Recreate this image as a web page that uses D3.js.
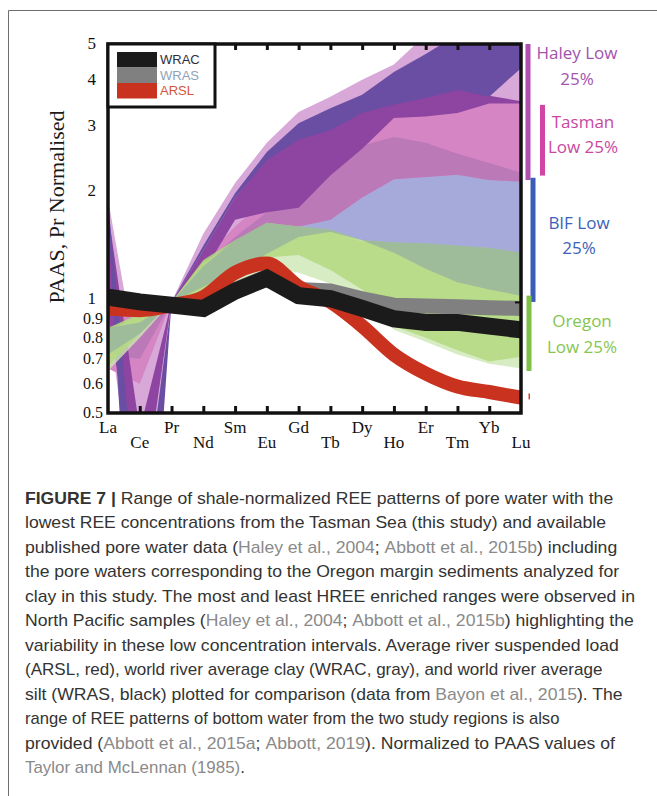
<!DOCTYPE html>
<html><head><meta charset="utf-8">
<script src="https://cdn.jsdelivr.net/npm/d3@7"></script>
<style>
html,body{margin:0;padding:0;background:#fff;}
svg{display:block;}
text{white-space:pre;}
</style></head>
<body>
<svg id="chart" width="657" height="796"></svg>
<script>
// ---------------- DATA ----------------
const elements = ["La","Ce","Pr","Nd","Sm","Eu","Gd","Tb","Dy","Ho","Er","Tm","Yb","Lu"];
const yTickValues = [0.5,0.6,0.7,0.8,0.9,1,2,3,4,5];
const yTickLabels = ["0.5","0.6","0.7","0.8","0.9","1","2","3","4","5"];

// pore-water ranges (PAAS, Pr normalised), per element
const haleyOuterHi = [1.9, 0.62, 1.0, 1.53, 2.1, 2.7, 3.27, 3.6, 4.0, 4.4, 5.3, 5.6, 5.8, 6.0];
const haleyOuterLo = [0.93, 0.2, 1.0, 1.2, 1.5, 1.7, 1.9, 2.1, 2.4, 2.6, 2.7, 2.8, 2.8, 2.3];
const haleyMidHi   = [1.75, 0.45, 1.0, 1.38, 1.92, 2.45, 2.78, 2.95, 3.28, 3.45, 3.6, 3.78, 3.62, 3.5];
const haleyMidLo   = [0.95, 0.25, 1.0, 1.2, 1.67, 1.75, 1.8, 2.2, 2.6, 3.15, 3.18, 3.25, 3.45, 3.45];
const haleyDarkHi  = [1.88, 0.22, 1.0, 1.42, 1.97, 2.55, 3.05, 3.35, 3.64, 4.2, 4.7, 5.3, 5.6, 6.0];
const haleyDarkLo  = [1.7, 0.06, 1.0, 1.38, 1.92, 2.42, 2.75, 2.92, 3.25, 3.42, 3.57, 3.75, 3.6, 4.3];
const tasmanHi     = [0.95, 0.9, 1.0, 1.3, 1.6, 1.9, 2.2, 2.6, 3.0, 3.3, 3.4, 3.5, 3.55, 3.5];
const tasmanLo     = [0.66, 0.6, 1.0, 1.05, 1.2, 1.35, 1.6, 1.67, 1.92, 2.15, 2.18, 2.21, 2.14, 2.12];
const bifHi        = [0.9, 0.88, 1.0, 1.25, 1.5, 1.75, 2.0, 2.3, 2.65, 2.8, 2.7, 2.52, 2.38, 2.24];
const bifLo        = [0.72, 0.7, 1.0, 1.1, 1.2, 1.35, 1.5, 1.55, 1.47, 1.36, 1.23, 1.13, 1.08, 1.04];
const oregonHi     = [0.85, 0.93, 1.0, 1.3, 1.47, 1.64, 1.6, 1.57, 1.47, 1.45, 1.44, 1.42, 1.40, 1.36];
const oregonLo     = [0.67, 0.82, 1.0, 1.02, 1.15, 1.32, 1.34, 1.22, 1.08, 0.86, 0.8, 0.74, 0.69, 0.71];
const bottomWaterHi= [0.84, 0.92, 1.0, 1.28, 1.45, 1.62, 1.58, 1.55, 1.45, 1.43, 1.42, 1.4, 1.38, 1.34];
const bottomWaterLo= [0.65, 0.8, 1.0, 1.0, 1.1, 1.25, 1.2, 1.12, 1.02, 0.84, 0.78, 0.72, 0.68, 0.66];

// river reference patterns
const seriesNames = ["WRAC","WRAS","ARSL"];
const wracValues = [1.03, 1.0, 0.98, 0.96, 1.07, 1.16, 1.04, 1.02, 0.96, 0.9, 0.88, 0.88, 0.86, 0.84];
const wrasValues = [1.03, 1.0, 0.98, 0.96, 1.08, 1.17, 1.08, 1.07, 1.02, 0.98, 0.975, 0.97, 0.965, 0.96];
const arslValues = [0.96, 0.95, 0.98, 1.03, 1.2, 1.27, 1.1, 1.0, 0.86, 0.72, 0.64, 0.59, 0.57, 0.55];

// right-hand range markers (at Lu)
const groupNames = [["Haley Low","25%"],["Tasman","Low 25%"],["BIF Low","25%"],["Oregon","Low 25%"]];
const groupLo = [2.14, 2.2, 1.0, 0.65];
const groupHi = [5.0, 3.42, 2.17, 1.04];

// ---------------- LAYOUT / STYLE ----------------
const M = {left:108, right:521, top:44, bottom:413};
const svg = d3.select("#chart");
const x = d3.scalePoint().domain(elements).range([M.left, M.right]);
const y = d3.scaleLog().domain([0.5,5]).range([M.bottom, M.top]);
const serif = "'Liberation Serif','Times New Roman',serif";
const sans = "'Liberation Sans',Arial,sans-serif";

// outer figure frame
svg.append("path").attr("d","M8.5,796 V10.5 H657").attr("fill","none")
  .attr("stroke","#6e6e6e").attr("stroke-width",1);

svg.append("clipPath").attr("id","plotclip").append("rect")
  .attr("x",M.left).attr("y",M.top).attr("width",M.right-M.left).attr("height",M.bottom-M.top);
const plot = svg.append("g").attr("clip-path","url(#plotclip)");

const band = (lo,hi) => lo.map((v,i)=>[v,hi[i]]);
const intersect = (a,b) => a.map((d,i)=>{
  const lo = Math.max(d[0], b[i][0]), hi = Math.min(d[1], b[i][1]);
  return hi>lo ? [lo,hi] : [lo,lo];
});
const area = d3.area().x((d,i)=>x(elements[i])).y0(d=>y(d[0])).y1(d=>y(d[1]));

const haleyOuter = band(haleyOuterLo, haleyOuterHi);
const haleyMid = band(haleyMidLo, haleyMidHi);
const haleyDark = band(haleyDarkLo, haleyDarkHi);
const tasman = band(tasmanLo, tasmanHi);
const bif = band(bifLo, bifHi);
const oregon = band(oregonLo, oregonHi);
const bottomWater = band(bottomWaterLo, bottomWaterHi);

const layers = [
  {d:haleyOuter, fill:"#d7a8d8", op:1},
  {d:bif, fill:"#a6aada", op:1},
  {d:tasman, fill:"#d585c3", op:1},
  {d:intersect(tasman,bif), fill:"#bb79b8", op:1},
  {d:haleyMid, fill:"#8e44a1", op:1},
  {d:haleyDark, fill:"#6a4ea3", op:1},
  {d:bottomWater, fill:"#cde7b4", op:0.8},
  {d:oregon, fill:"#b3d97f", op:0.85},
  {d:intersect(oregon,bif), fill:"#9bb89c", op:0.9}
];
layers.forEach(l => plot.append("path").attr("d", area(l.d)).attr("fill", l.fill).attr("fill-opacity", l.op));

const line = d3.line().x((d,i)=>x(elements[i])).y(d=>y(d));
const lineSpecs = [
  {v:wrasValues, c:"#808080", w:15, curve:d3.curveLinear},
  {v:arslValues, c:"#c8321f", w:14, curve:d3.curveMonotoneX},
  {v:wracValues, c:"#1b1b1b", w:17, curve:d3.curveLinear}
];
lineSpecs.forEach(s => plot.append("path").attr("d", line.curve(s.curve)(s.v))
  .attr("fill","none").attr("stroke",s.c).attr("stroke-width",s.w).attr("stroke-linejoin","miter"));

// axes frame with inward ticks
const inner = elements.slice(1,-1);
svg.append("g").attr("transform",`translate(0,${M.top})`)
  .call(d3.axisTop(x).tickValues(inner).tickSizeInner(-6).tickSizeOuter(0).tickFormat(""))
  .call(g=>{g.select(".domain").remove(); g.selectAll("line").attr("stroke","#111").attr("stroke-width",3);});
svg.append("g").attr("transform",`translate(0,${M.bottom})`)
  .call(d3.axisBottom(x).tickValues(inner).tickSizeInner(-7).tickSizeOuter(0).tickFormat(""))
  .call(g=>{g.select(".domain").remove(); g.selectAll("line").attr("stroke","#111").attr("stroke-width",3);});
svg.append("g").attr("transform",`translate(${M.right},0)`)
  .call(d3.axisRight(y).tickValues([1]).tickSizeInner(-6).tickSizeOuter(0).tickFormat(""))
  .call(g=>{g.select(".domain").remove(); g.selectAll("line").attr("stroke","#111").attr("stroke-width",2);});
svg.append("rect").attr("x",M.left).attr("y",M.top).attr("width",M.right-M.left).attr("height",M.bottom-M.top)
  .attr("fill","none").attr("stroke","#111").attr("stroke-width",3.5);

// x labels (alternating rows)
svg.append("g").selectAll("text").data(elements).join("text")
  .attr("x", d=>x(d)).attr("y",(d,i)=> i%2===0 ? 433 : 448)
  .attr("text-anchor","middle").attr("font-family",serif).attr("font-size",17).attr("fill","#111")
  .text(d=>d);

// y labels
svg.append("g").selectAll("text").data(yTickValues).join("text")
  .attr("x",(d,i)=> yTickLabels[i].length>1 ? 103 : 96)
  .attr("y", d=> d===1 ? y(d)-3 : y(d)).attr("dy","0.32em")
  .attr("text-anchor","end").attr("font-family",serif)
  .attr("font-size",(d,i)=> yTickLabels[i].length>1 ? 16 : 17).attr("fill","#111")
  .text((d,i)=>yTickLabels[i]);

svg.append("text").attr("transform","translate(64,207) rotate(-90)")
  .attr("text-anchor","middle").attr("font-family",serif).attr("font-size",22).attr("fill","#1a1a1a")
  .text("PAAS, Pr Normalised");

// legend
const lg = svg.append("g");
lg.append("rect").attr("x",M.left).attr("y",M.top).attr("width",107).attr("height",63)
  .attr("fill","#fff").attr("stroke","#111").attr("stroke-width",3);
const legColors = ["#1b1b1b","#808080","#c8321f"];
const legText = ["#2e2e3a","#8fa3b6","#d4553d"];
seriesNames.forEach((n,i)=>{
  lg.append("rect").attr("x",117).attr("y",52+i*15.5).attr("width",40).attr("height",15.5).attr("fill",legColors[i]);
  lg.append("text").attr("x",160).attr("y",64+i*15.5).attr("font-family",sans).attr("font-size",13)
    .attr("fill",legText[i]).text(n);
});

// right range markers
const barX = [528, 542.5, 533, 529];
const barColor = ["#b04fb0","#d045a6","#3c5db5","#7dc147"];
const txtColor = ["#a452ad","#c9479f","#3b62b8","#86c550"];
const txtX = [577, 583, 579, 582];
const txtY = [[59,85],[128,153],[229,254],[327,353]];
groupNames.forEach((g,i)=>{
  svg.append("rect").attr("x",barX[i]-2.5).attr("y",y(groupHi[i])).attr("width",5)
    .attr("height",y(groupLo[i])-y(groupHi[i])).attr("fill",barColor[i]);
  g.forEach((s,j)=> svg.append("text").attr("x",txtX[i]).attr("y",txtY[i][j])
    .attr("text-anchor","middle").attr("font-family","'Open Sans',sans-serif").attr("font-size",17)
    .attr("fill",txtColor[i]).text(s));
});
svg.append("rect").attr("x",528.5).attr("y",y(0.565)).attr("width",1.5).attr("height",6).attr("fill","#d9442b");

// caption
const captionLines = [
 [["FIGURE 7 | ","b"],["Range of shale-normalized REE patterns of pore water with the","n"]],
 [["lowest REE concentrations from the Tasman Sea (this study) and available","n"]],
 [["published pore water data (","n"],["Haley et al., 2004","c"],["; ","n"],["Abbott et al., 2015b","c"],[") including","n"]],
 [["the pore waters corresponding to the Oregon margin sediments analyzed for","n"]],
 [["clay in this study. The most and least HREE enriched ranges were observed in","n"]],
 [["North Pacific samples (","n"],["Haley et al., 2004","c"],["; ","n"],["Abbott et al., 2015b","c"],[") highlighting the","n"]],
 [["variability in these low concentration intervals. Average river suspended load","n"]],
 [["(ARSL, red), world river average clay (WRAC, gray), and world river average","n"]],
 [["silt (WRAS, black) plotted for comparison (data from ","n"],["Bayon et al., 2015","c"],["). The","n"]],
 [["range of REE patterns of bottom water from the two study regions is also","n"]],
 [["provided (","n"],["Abbott et al., 2015a","c"],["; ","n"],["Abbott, 2019","c"],["). Normalized to PAAS values of","n"]],
 [["Taylor and McLennan (1985)","c"],[".","n"]]
];
const captionRight = [630,617,637,637,647,638,622,603,634,560,633,245];
const cap = svg.append("g").attr("font-family",sans).attr("font-size",16);
captionLines.forEach((segs,i)=>{
  const yy = 504 + i*24.45;
  const t = cap.append("text").attr("transform",`translate(25,${yy})`);
  segs.forEach(([s,k])=> t.append("tspan").text(s)
    .attr("fill", k==="c" ? "#8a8a8a" : "#333")
    .attr("font-weight", k==="b" ? "bold" : null));
  const w = t.node().getComputedTextLength();
  let k = (captionRight[i]-25)/w; k = Math.max(0.88, Math.min(1.1, k));
  t.attr("transform",`translate(25,${yy}) scale(${k},1)`);
});
</script>
</body></html>
